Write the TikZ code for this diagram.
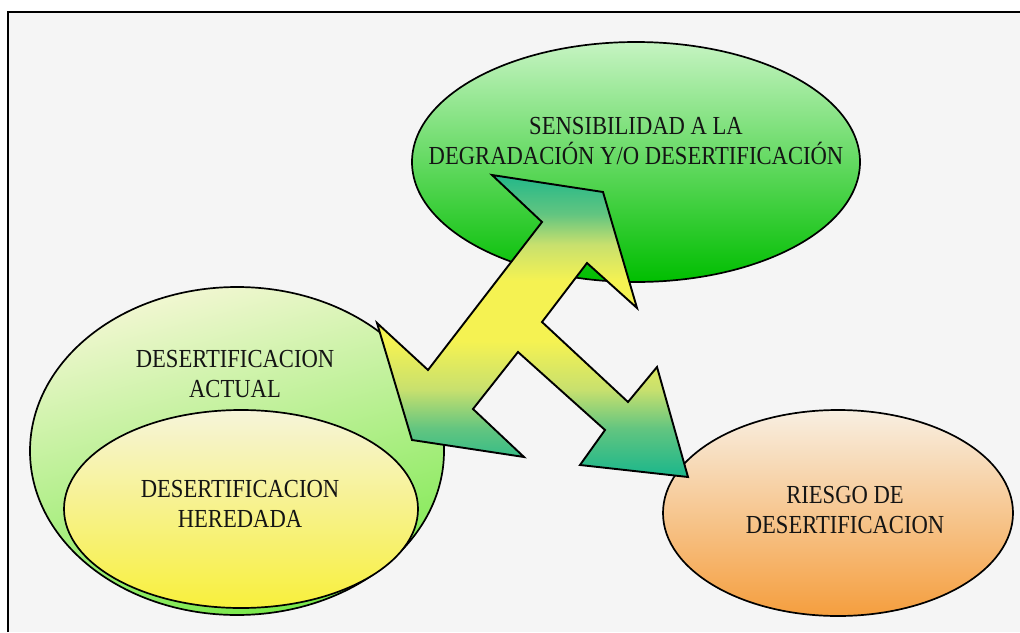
\documentclass[tikz,border=0pt]{standalone}
\usepackage{fontspec}
\setmainfont{Liberation Serif}
\newfontfamily\capfont{Liberation Serif}[FakeStretch=0.87]
\usetikzlibrary{shapes.geometric}

\definecolor{pageGray}{HTML}{F5F5F5}
\definecolor{actTop}{HTML}{F2F7D2}
\definecolor{actBottom}{HTML}{78E84A}
\definecolor{herTop}{HTML}{F6F4DA}
\definecolor{herBottom}{HTML}{F8F03C}
\definecolor{sensTop}{HTML}{C6F4C2}
\definecolor{sensBottom}{HTML}{00BE00}
\definecolor{riskTop}{HTML}{F8EFE2}
\definecolor{riskBottom}{HTML}{F59E3E}
\definecolor{arrowTeal}{HTML}{22B88A}
\definecolor{arrowGreen}{HTML}{62C580}
\definecolor{arrowLime}{HTML}{C8E06E}
\definecolor{arrowYellow}{HTML}{F5F252}

% teal at both ends, yellow through the middle
\pgfdeclareverticalshading{arrowshade}{100bp}{%
  color(0bp)=(arrowTeal); color(26bp)=(arrowTeal); color(33bp)=(arrowGreen);
  color(39.5bp)=(arrowLime); color(47.5bp)=(arrowYellow); color(57.5bp)=(arrowYellow);
  color(63.5bp)=(arrowLime); color(68.5bp)=(arrowGreen); color(75bp)=(arrowTeal);
  color(100bp)=(arrowTeal)}

\begin{document}
\begin{tikzpicture}[x=1pt,y=-1pt,
  oval/.style={ellipse, draw=black, line width=1.7pt, inner sep=0pt, outer sep=0pt},
  caption/.style={align=center, inner sep=0pt, text=black!92,
    font=\capfont\fontsize{26}{29.5}\selectfont},
  flowarrow/.style={draw=black, line width=1.9pt, line join=miter, shading=arrowshade}]

  % page and frame
  \useasboundingbox (0,0) rectangle (1020,632);
  \fill[white] (0,0) rectangle (1020,632);
  \fill[pageGray] (8,12) rectangle (1020,632);
  \draw[line width=2.6pt] (8,632) -- (8,12) -- (1020,12);

  % current and inherited desertification
  \node[oval, minimum width=414, minimum height=328,
        top color=actTop, bottom color=actBottom, shading angle=15] (actual) at (237,451) {};
  \node[oval, minimum width=354, minimum height=198,
        top color=herTop, bottom color=herBottom] (heredada) at (241,509) {};

  % sensitivity
  \node[oval, minimum width=448, minimum height=240,
        top color=sensTop, bottom color=sensBottom] (sens) at (636,162) {};

  % risk
  \node[oval, minimum width=350, minimum height=206,
        top color=riskTop, bottom color=riskBottom] (riesgo) at (838,513) {};

  % three-way arrow
  \draw[flowarrow] (492,175) -- (603,192) -- (637,308) -- (587,263) -- (542,322)
    -- (628,402) -- (657,367) -- (688,477) -- (580,465) -- (605,430) -- (518,352)
    -- (473,409) -- (524,457) -- (412,440) -- (377,323) -- (428,370) -- (542,222) -- cycle;

  % captions
  \node[caption] (tSens) at (636,141) {SENSIBILIDAD A LA\\DEGRADACIÓN Y/O DESERTIFICACIÓN};
  \node[caption] (tActual) at (235,374) {DESERTIFICACION\\ACTUAL};
  \node[caption] (tHeredada) at (240,504) {DESERTIFICACION\\HEREDADA};
  \node[caption] (tRiesgo) at (845,510) {RIESGO DE\\DESERTIFICACION};
\end{tikzpicture}
\end{document}
